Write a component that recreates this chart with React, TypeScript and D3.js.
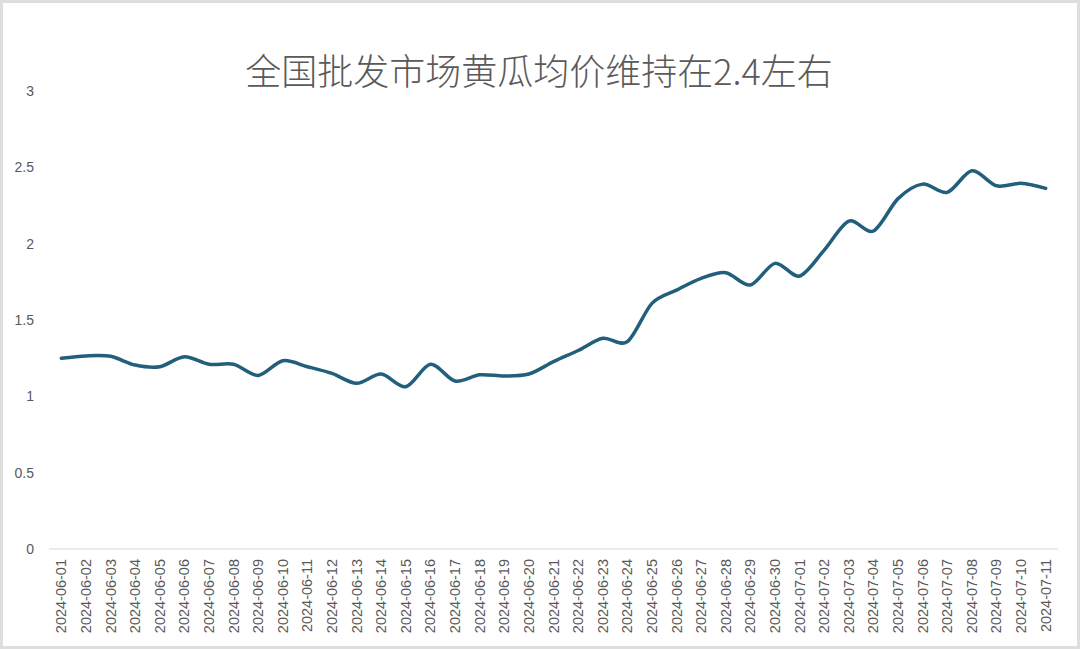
import React from "react";
import * as d3 from "d3";

const TITLE = "全国批发市场黄瓜均价维持在2.4左右";

const dates: string[] = [
  "2024-06-01", "2024-06-02", "2024-06-03", "2024-06-04", "2024-06-05", "2024-06-06",
  "2024-06-07", "2024-06-08", "2024-06-09", "2024-06-10", "2024-06-11", "2024-06-12",
  "2024-06-13", "2024-06-14", "2024-06-15", "2024-06-16", "2024-06-17", "2024-06-18",
  "2024-06-19", "2024-06-20", "2024-06-21", "2024-06-22", "2024-06-23", "2024-06-24",
  "2024-06-25", "2024-06-26", "2024-06-27", "2024-06-28", "2024-06-29", "2024-06-30",
  "2024-07-01", "2024-07-02", "2024-07-03", "2024-07-04", "2024-07-05", "2024-07-06",
  "2024-07-07", "2024-07-08", "2024-07-09", "2024-07-10", "2024-07-11",
];

const prices: number[] = [
  1.25, 1.265, 1.262, 1.205, 1.194, 1.26, 1.21, 1.21, 1.137, 1.233, 1.194, 1.15,
  1.085, 1.146, 1.063, 1.21, 1.10, 1.141, 1.133, 1.146, 1.227, 1.30, 1.38, 1.358,
  1.609, 1.696, 1.773, 1.81, 1.729, 1.871, 1.788, 1.958, 2.148, 2.083, 2.295, 2.39,
  2.336, 2.477, 2.379, 2.395, 2.362,
];

const yTicks: number[] = [0, 0.5, 1, 1.5, 2, 2.5, 3];

const W = 1080;
const H = 649;
const plot = { left: 49, right: 1058, top: 91, bottom: 549 };

export default function App() {
  const x = d3
    .scaleBand<string>()
    .domain(dates)
    .range([plot.left, plot.right])
    .padding(0);
  const y = d3.scaleLinear().domain([0, 3]).range([plot.bottom, plot.top]);
  const cx = (d: string) => (x(d) as number) + x.bandwidth() / 2;

  const line = d3
    .line<number>()
    .x((_, i) => cx(dates[i]))
    .y((v) => y(v))
    .curve(d3.curveCardinal.tension(0.1));

  const labelFont = "'Liberation Sans', Arial, sans-serif";

  return (
    <svg
      width={W}
      height={H}
      style={{ position: "absolute", left: 0, top: 0, background: "#fff" }}
    >
      <rect x={0} y={0} width={W} height={H} fill="#ffffff" />
      <rect
        x={1.5}
        y={1.5}
        width={W - 3}
        height={H - 3}
        fill="none"
        stroke="#dedede"
        strokeWidth={3}
      />
      <text
        x={539}
        y={85}
        textAnchor="middle"
        fontFamily="'Noto Sans CJK SC', sans-serif"
        fontSize={36}
        fontWeight={300}
        fill="#5a5a5a"
      >
        {TITLE}
      </text>

      {yTicks.map((t) => (
        <text
          key={t}
          x={34}
          y={y(t)}
          dy="0.35em"
          textAnchor="end"
          fontFamily={labelFont}
          fontSize={14}
          fill="#595959"
        >
          {t}
        </text>
      ))}

      <line
        x1={plot.left}
        x2={plot.right}
        y1={y(0)}
        y2={y(0)}
        stroke="#d9d9d9"
        strokeWidth={1}
      />

      {dates.map((d) => (
        <text
          key={d}
          transform={`translate(${cx(d) + 5},${plot.bottom + 10}) rotate(-90)`}
          textAnchor="end"
          fontFamily={labelFont}
          fontSize={14.5}
          fill="#595959"
        >
          {d}
        </text>
      ))}

      <path
        d={line(prices) || ""}
        fill="none"
        stroke="#215f7b"
        strokeWidth={3.5}
        strokeLinecap="round"
        strokeLinejoin="round"
      />
    </svg>
  );
}
